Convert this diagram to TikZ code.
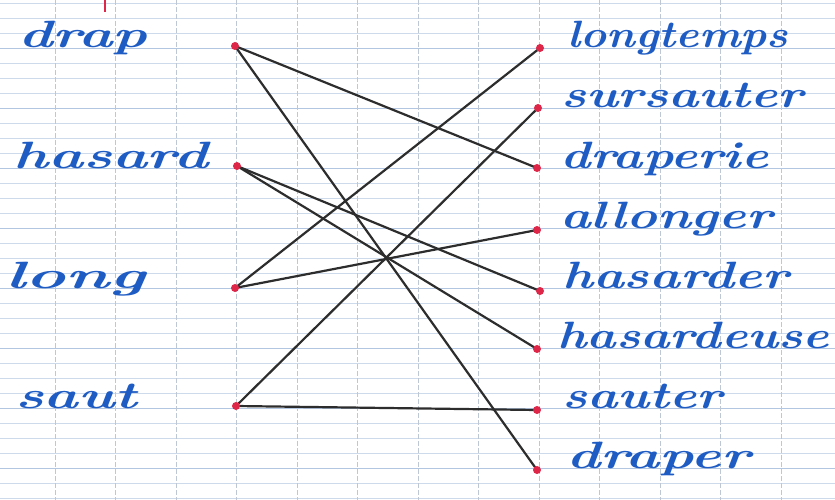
\documentclass[tikz,border=0pt]{standalone}
\usepackage{graphicx}
\definecolor{ink}{RGB}{30,92,196}
\definecolor{pen}{RGB}{45,45,45}
\definecolor{dotred}{RGB}{222,38,72}
\definecolor{gridv}{RGB}{190,200,212}
\definecolor{gridh}{RGB}{205,218,235}
\definecolor{gridhh}{RGB}{178,198,225}
\newcommand{\cursword}[2]{\resizebox{#1pt}{\height}{#2}}
\tikzset{
  word/.style={anchor=base west, inner sep=0pt, text=ink, font=\fontsize{38}{42}\selectfont\bfseries\itshape},
  pt/.style={circle, fill=dotred, inner sep=0pt, minimum size=8pt},
  link/.style={pen, line width=2.2pt, line cap=round},
  hline/.style={gridh, line width=0.7pt},
  hheavy/.style={gridhh, line width=0.9pt},
  vline/.style={gridv, line width=0.7pt, dash pattern=on 5pt off 2pt},
}
\begin{document}
\begin{tikzpicture}[x=1pt,y=-1pt]
\useasboundingbox (0,0) rectangle (835,500);
\fill[white] (0,0) rectangle (835,500);
% Seyes ruling
\foreach \k in {0,...,33} \draw[hline] (0,3+15*\k) -- (835,3+15*\k);
\foreach \y in {48,108,...,468} \draw[hheavy] (0,\y) -- (835,\y);
\foreach \k in {0,...,12} \draw[vline] (55+60.5*\k,0) -- (55+60.5*\k,500);
% red mark at top
\draw[dotred, line width=2.6pt] (105,0) -- (105,12);
% left words
\node[word] (wdrap)   at (18,48)  {\cursword{129}{drap}};
\node[word] (whasard) at (13,168) {\cursword{195}{hasard}};
\node[word] (wlong)   at (5,288)  {\cursword{140}{long}};
\node[word] (wsaut)   at (15,408) {\cursword{122}{saut}};
% right words
\node[word] (wlongtemps)  at (567,48)  {\cursword{221}{longtemps}};
\node[word] (wsursauter)  at (561,108) {\cursword{242}{sursauter}};
\node[word] (wdraperie)   at (560,168) {\cursword{208}{draperie}};
\node[word] (wallonger)   at (560,228) {\cursword{212}{allonger}};
\node[word] (whasarder)   at (562,288) {\cursword{226}{hasarder}};
\node[word] (whasardeuse) at (557,348) {\cursword{272}{hasardeuse}};
\node[word] (wsauter)     at (562,408) {\cursword{160}{sauter}};
\node[word] (wdraper)     at (566,468) {\cursword{184}{draper}};
% dots
\coordinate (L1) at (235,46);
\coordinate (L2) at (237,166);
\coordinate (L3) at (235,288);
\coordinate (L4) at (236,406);
\coordinate (R1) at (540,48);
\coordinate (R2) at (538,108);
\coordinate (R3) at (537,168);
\coordinate (R4) at (537,230);
\coordinate (R5) at (540,291);
\coordinate (R6) at (537,349);
\coordinate (R7) at (537,410);
\coordinate (R8) at (537,470);
% connectors
\draw[link] (L1) -- (R3);
\draw[link] (L1) -- (R8);
\draw[link] (L2) -- (R5);
\draw[link] (L2) -- (R6);
\draw[link] (L3) -- (R1);
\draw[link] (L3) -- (R4);
\draw[link] (L4) -- (R2);
\draw[link] (L4) -- (R7);
\foreach \p in {L1,L2,L3,L4,R1,R2,R3,R4,R5,R6,R7,R8} \node[pt] (d\p) at (\p) {};
\end{tikzpicture}
\end{document}
